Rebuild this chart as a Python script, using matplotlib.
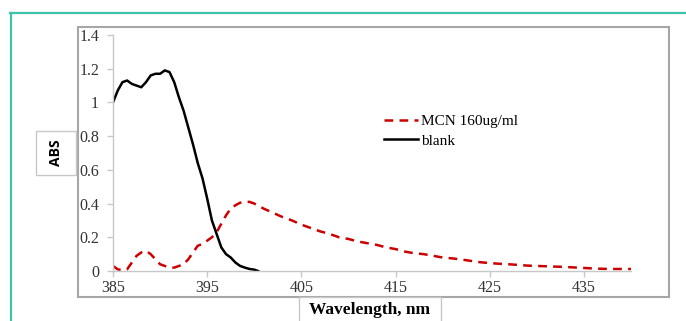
import matplotlib.pyplot as plt
from matplotlib.lines import Line2D
from matplotlib.patches import Rectangle

# blank (black) spectrum
blank_wl = [385, 385.5, 386, 386.5, 387, 387.5, 388, 388.5, 389, 389.5, 390, 390.5,
            391, 391.5, 392, 392.5, 393, 393.5, 394, 394.5, 395, 395.5, 396, 396.5,
            397, 397.5, 398, 398.5, 399, 399.5, 400, 400.4]
blank_abs = [1.00, 1.07, 1.12, 1.13, 1.11, 1.10, 1.09, 1.12, 1.16, 1.17, 1.17, 1.19,
             1.18, 1.12, 1.03, 0.95, 0.85, 0.75, 0.64, 0.55, 0.43, 0.30, 0.22, 0.14,
             0.10, 0.08, 0.05, 0.03, 0.02, 0.012, 0.008, 0.0]

# MCN 160ug/ml (red dashed) spectrum
mcn_wl = [385, 385.5, 386, 386.5, 387, 387.5, 388, 388.5, 389, 389.5, 390, 390.5,
          391, 391.5, 392, 392.5, 393, 393.5, 394, 394.5, 395, 395.5, 396, 396.5,
          397, 397.5, 398, 398.5, 399, 399.5, 400] + list(range(401, 441))
mcn_abs = [0.03, 0.01, 0.005, 0.01, 0.05, 0.09, 0.11, 0.12, 0.10, 0.07, 0.04, 0.03,
           0.02, 0.02, 0.03, 0.04, 0.07, 0.11, 0.15, 0.16, 0.18, 0.20, 0.23, 0.28,
           0.33, 0.37, 0.39, 0.405, 0.41, 0.41, 0.40,
           0.37, 0.345, 0.32, 0.30, 0.275, 0.255, 0.235, 0.22, 0.20, 0.19,
           0.175, 0.165, 0.155, 0.14, 0.13, 0.115, 0.105, 0.10, 0.09, 0.08,
           0.075, 0.068, 0.06, 0.052, 0.047, 0.043, 0.04, 0.036, 0.032, 0.03,
           0.028, 0.026, 0.024, 0.021, 0.018, 0.015, 0.013, 0.012, 0.012, 0.012]

xticks = [385, 395, 405, 415, 425, 435]
yticks = [0, 0.2, 0.4, 0.6, 0.8, 1, 1.2, 1.4]
ytick_labels = ['0', '0.2', '0.4', '0.6', '0.8', '1', '1.2', '1.4']

W, H = 686, 321
fig = plt.figure(figsize=(W / 100, H / 100), dpi=100)

def fx(px):
    return px / W

def fy(py):
    return 1 - py / H

# teal page frame
fig.add_artist(Line2D([fx(10), 1], [fy(13), fy(13)], color='#3cc3a8', lw=1.6))
fig.add_artist(Line2D([fx(11), fx(11)], [fy(13), 0], color='#3cc3a8', lw=1.6))

# chart border
fig.add_artist(Rectangle((fx(78), fy(297)), fx(669) - fx(78), fy(27) - fy(297),
                         fill=False, edgecolor='#a6a6a6', lw=1.5))

ax = fig.add_axes([fx(113), fy(271), fx(631) - fx(113), fy(35) - fy(271)])
ax.plot(mcn_wl, mcn_abs, color='#cc0000', lw=1.8, dashes=(3.5, 2.5),
        label='MCN 160ug/ml')
ax.plot(blank_wl, blank_abs, color='black', lw=1.8, label='blank')

ax.set_xlim(385, 440)
ax.set_ylim(0, 1.4)
ax.set_xticks(xticks)
ax.set_yticks(yticks)
ax.set_yticklabels(ytick_labels)
for s in ['top', 'right']:
    ax.spines[s].set_visible(False)
for s in ['left', 'bottom']:
    ax.spines[s].set_color('#c8c8c8')
    ax.spines[s].set_linewidth(1.0)
ax.tick_params(colors='#c8c8c8', length=4, width=1.0, labelcolor='#333333',
               labelsize=11.5)
ax.tick_params(axis='x', pad=2.5)
ax.tick_params(axis='y', pad=6)
for lbl in ax.get_xticklabels() + ax.get_yticklabels():
    lbl.set_family('Liberation Serif')

leg = ax.legend(loc='center left', bbox_to_anchor=(fx(384), fy(131)),
                bbox_transform=fig.transFigure, frameon=False, borderpad=0,
                borderaxespad=0, handlelength=2.2, handletextpad=0.2,
                labelspacing=0.4, prop={'family': 'Liberation Serif', 'size': 11})

# y-axis title box
fig.add_artist(Rectangle((fx(36), fy(175)), fx(76) - fx(36), fy(131) - fy(175),
                         facecolor='white', edgecolor='#c8c8c8', lw=1.0))
fig.text(fx(56), fy(153), 'ABS', rotation=90, ha='center', va='center',
         fontsize=10, fontweight='bold', family='Open Sans')

# x-axis title box
fig.add_artist(Rectangle((fx(299), fy(325)), fx(441) - fx(299), fy(297) - fy(325),
                         facecolor='white', edgecolor='#c8c8c8', lw=1.0))
fig.text(fx(370), fy(310), 'Wavelength, nm', ha='center', va='center',
         fontsize=12.5, fontweight='bold', family='Liberation Serif')

fig.savefig('out.png', dpi=100)
